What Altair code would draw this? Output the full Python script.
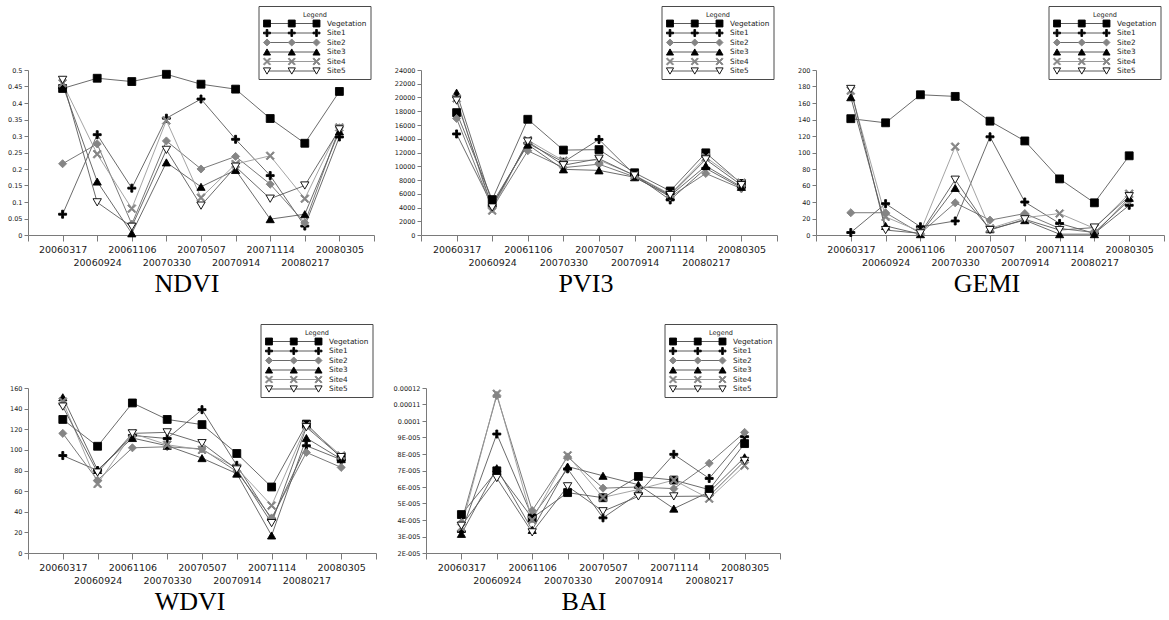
import json
import altair as alt
import pandas as pd

# ---------------- data ----------------
DATES = ["20060317", "20060924", "20061106", "20070330", "20070507",
         "20070914", "20071114", "20080217", "20080305"]
SERIES = ["Vegetation", "Site1", "Site2", "Site3", "Site4", "Site5"]

NDVI_VEG = [0.444, 0.475, 0.465, 0.487, 0.457, 0.442, 0.353, 0.278, 0.435]
NDVI_S1 = [0.063, 0.304, 0.142, 0.354, 0.412, 0.290, 0.180, 0.027, 0.297]
NDVI_S2 = [0.216, 0.276, 0.033, 0.285, 0.200, 0.238, 0.154, 0.037, 0.325]
NDVI_S3 = [0.455, 0.162, 0.005, 0.220, 0.146, 0.197, 0.048, 0.063, 0.314]
NDVI_S4 = [0.460, 0.245, 0.080, 0.347, 0.113, 0.215, 0.240, 0.110, 0.326]
NDVI_S5 = [0.470, 0.099, 0.025, 0.258, 0.089, 0.207, 0.110, 0.150, 0.320]

PVI3_VEG = [17800, 5150, 16830, 12350, 12420, 9050, 6400, 11950, 7500]
PVI3_S1 = [14700, 4300, 13350, 10600, 13900, 8750, 5100, 9700, 6850]
PVI3_S2 = [16950, 3850, 12250, 9800, 10300, 8450, 5550, 8950, 6750]
PVI3_S3 = [20700, 4600, 13150, 9550, 9400, 8400, 5700, 10050, 7000]
PVI3_S4 = [19870, 3550, 13800, 10800, 10900, 8700, 5950, 11300, 7600]
PVI3_S5 = [19550, 4000, 13600, 10150, 11100, 8650, 5800, 11000, 7250]

GEMI_VEG = [141, 136, 170, 168, 138, 114, 68, 39, 96]
GEMI_S1 = [3, 38, 10, 17, 119, 40, 14, 2, 36]
GEMI_S2 = [27, 27, 2, 39, 18, 26, 8, 3, 42]
GEMI_S3 = [167, 11, 1, 57, 7, 18, 1, 1, 45]
GEMI_S4 = [175, 22, 4, 107, 8, 21, 26, 8, 50]
GEMI_S5 = [177, 6, 2, 67, 6, 19, 6, 9, 47]

WDVI_VEG = [129.5, 103.5, 145.5, 129.5, 124.5, 96.5, 64, 125, 92.5]
WDVI_S1 = [94.5, 80, 114, 111, 139, 85, 32.5, 104, 90.5]
WDVI_S2 = [116, 70.5, 102, 103, 101, 79, 34, 97.5, 83]
WDVI_S3 = [151, 80.5, 111.5, 104, 92, 77, 17, 111.5, 91]
WDVI_S4 = [147, 67, 116, 105, 100, 82.5, 46, 123.5, 94.5]
WDVI_S5 = [142, 78, 116, 117, 106.5, 81, 29, 122, 93]

BAI_VEG = [4.33e-5, 6.98e-5, 4.12e-5, 5.66e-5, 5.35e-5, 6.64e-5, 6.42e-5, 5.84e-5, 8.63e-5]
BAI_S1 = [3.30e-5, 9.21e-5, 4.20e-5, 7.10e-5, 4.13e-5, 5.60e-5, 7.98e-5, 6.52e-5, 9.05e-5]
BAI_S2 = [3.85e-5, 11.55e-5, 4.57e-5, 7.82e-5, 5.93e-5, 6.00e-5, 5.90e-5, 7.44e-5, 9.31e-5]
BAI_S3 = [3.16e-5, 7.14e-5, 3.40e-5, 7.24e-5, 6.68e-5, 6.14e-5, 4.69e-5, 5.70e-5, 7.80e-5]
BAI_S4 = [3.55e-5, 11.65e-5, 4.00e-5, 7.92e-5, 5.37e-5, 5.85e-5, 6.42e-5, 5.29e-5, 7.30e-5]
BAI_S5 = [3.65e-5, 6.54e-5, 3.25e-5, 6.04e-5, 4.53e-5, 5.43e-5, 5.43e-5, 5.45e-5, 7.58e-5]

NDVI_TICKS = [0, 0.05, 0.1, 0.15, 0.2, 0.25, 0.3, 0.35, 0.4, 0.45, 0.5]
NDVI_TICK_LABELS = ["0", "0.05", "0.1", "0.15", "0.2", "0.25", "0.3", "0.35", "0.4", "0.45", "0.5"]
PVI3_TICKS = list(range(0, 24001, 2000))
PVI3_TICK_LABELS = [str(v) for v in PVI3_TICKS]
GEMI_TICKS = list(range(0, 201, 20))
GEMI_TICK_LABELS = [str(v) for v in GEMI_TICKS]
WDVI_TICKS = list(range(0, 161, 20))
WDVI_TICK_LABELS = [str(v) for v in WDVI_TICKS]
BAI_TICKS = [2e-5, 3e-5, 4e-5, 5e-5, 6e-5, 7e-5, 8e-5, 9e-5, 1e-4, 1.1e-4, 1.2e-4]
BAI_TICK_LABELS = ["2E-005", "3E-005", "4E-005", "5E-005", "6E-005", "7E-005",
                   "8E-005", "9E-005", "0.0001", "0.00011", "0.00012"]

# ---------------- styling ----------------
PLUS_PATH = "M-0.24,-1H0.24V-0.24H1V0.24H0.24V1H-0.24V0.24H-1V-0.24H-0.24Z"
X_PATH = ("M-1,-0.74L-0.74,-1L0,-0.26L0.74,-1L1,-0.74L0.26,0L1,0.74L0.74,1"
          "L0,0.26L-0.74,1L-1,0.74L-0.26,0Z")
SHAPES = ["square", PLUS_PATH, "diamond", "triangle-up", X_PATH, "triangle-down"]
FILLS = ["#000000", "#000000", "#858585", "#000000", "#858585", "#ffffff"]
STROKES = ["#000000", "#000000", "#858585", "#000000", "#858585", "#000000"]
SIZES = [62, 70, 42, 50, 58, 50]
LEG_SIZES = [48, 52, 32, 40, 44, 40]
LINE_COLORS = ["#5a5a5a", "#5a5a5a", "#6a6a6a", "#5a5a5a", "#9a9a9a", "#5a5a5a"]

LABEL_FONT = "DejaVu Sans"
TEXT_COLOR = "#1a1a1a"
H = 165


def panel(title, series_vals, ydomain, yticks, ytick_labels, W, title_dx):
    rows = []
    for s_i, s in enumerate(SERIES):
        for d_i, v in enumerate(series_vals[s_i]):
            rows.append({"idx": d_i + 1, "series": s, "value": v, "o": s_i})
    df = pd.DataFrame(rows)

    dates_js = json.dumps(DATES)
    x_label_expr = (
        f"datum.value < 1 || datum.value > 9 ? '' : "
        f"(datum.value % 2 == 1 ? {dates_js}[datum.value - 1] : "
        f"['', {dates_js}[datum.value - 1]])"
    )
    ylab_js = json.dumps(ytick_labels)
    step = yticks[1] - yticks[0]
    y_label_expr = f"{ylab_js}[round((datum.value - ({yticks[0]})) / ({step}))]"

    xs = alt.Scale(domain=[0, 10], nice=False, zero=False)
    ys = alt.Scale(domain=ydomain, nice=False, zero=False)
    xaxis = alt.Axis(values=list(range(11)), labelExpr=x_label_expr, title=None,
                     grid=False, domainColor="#7a7a7a", tickColor="#7a7a7a",
                     tickSize=6, labelFont=LABEL_FONT, labelFontSize=9.5,
                     labelColor=TEXT_COLOR, labelPadding=3, labelOverlap=False,
                     labelFlush=False, labelLineHeight=13, labelBaseline="top",
                     labelBound=False)
    yaxis = alt.Axis(values=yticks, labelExpr=y_label_expr, title=None, grid=False,
                     domainColor="#7a7a7a", tickColor="#7a7a7a", tickSize=4,
                     labelFont=LABEL_FONT, labelFontSize=6.5, labelColor=TEXT_COLOR,
                     labelPadding=2, labelOverlap=False, labelFlush=False,
                     labelBound=False)

    color_scale = alt.Scale(domain=SERIES, range=LINE_COLORS)
    shape_scale = alt.Scale(domain=SERIES, range=SHAPES)
    fill_scale = alt.Scale(domain=SERIES, range=FILLS)
    stroke_scale = alt.Scale(domain=SERIES, range=STROKES)

    base = alt.Chart(df)
    lines = base.mark_line(strokeWidth=0.9).encode(
        x=alt.X("idx:Q", scale=xs, axis=xaxis),
        y=alt.Y("value:Q", scale=ys, axis=yaxis),
        color=alt.Color("series:N", scale=color_scale, legend=None),
        order=alt.Order("idx:Q"),
    )
    points = base.mark_point(filled=True, opacity=1, strokeWidth=0.9).encode(
        x=alt.X("idx:Q", scale=xs, axis=None),
        y=alt.Y("value:Q", scale=ys, axis=None),
        shape=alt.Shape("series:N", scale=shape_scale, legend=None),
        fill=alt.Fill("series:N", scale=fill_scale, legend=None),
        stroke=alt.Stroke("series:N", scale=stroke_scale, legend=None),
        size=alt.Size("series:N", scale=alt.Scale(domain=SERIES, range=SIZES), legend=None),
    )

    # ----- legend box drawn above the plot -----
    bw = 112
    bx0 = W - 3 - bw
    leg_df = pd.DataFrame({"series": SERIES, "row": list(range(6))})
    leg_pts = pd.DataFrame([{"series": s, "row": i, "col": c}
                            for i, s in enumerate(SERIES) for c in range(3)])
    box_df = pd.DataFrame({"k": [0]})
    leg_y = alt.Y("row:Q", scale=alt.Scale(domain=[0, 5], range=[-46.5, 1],
                                           nice=False, zero=False), axis=None)
    leg_x = alt.X("col:Q", scale=alt.Scale(domain=[0, 2], range=[bx0 + 8, bx0 + 57.5],
                                           nice=False, zero=False), axis=None)

    box = alt.Chart(box_df).mark_rect(fill="white", stroke="#4a4a4a", strokeWidth=1).encode(
        x=alt.value(bx0), x2=alt.value(bx0 + bw), y=alt.value(-63.5), y2=alt.value(9.5))
    leg_title = alt.Chart(box_df).mark_text(
        text="Legend", font=LABEL_FONT, fontSize=6.5, align="center",
        baseline="middle", color=TEXT_COLOR, fill=TEXT_COLOR).encode(
        x=alt.value(bx0 + 56), y=alt.value(-55.5))
    leg_rules = alt.Chart(leg_df).mark_rule(strokeWidth=1).encode(
        x=alt.value(bx0 + 8), x2=alt.value(bx0 + 57.5), y=leg_y,
        color=alt.Color("series:N", scale=color_scale, legend=None))
    leg_points = alt.Chart(leg_pts).mark_point(filled=True, opacity=1, strokeWidth=0.9).encode(
        x=leg_x, y=leg_y,
        shape=alt.Shape("series:N", scale=shape_scale, legend=None),
        fill=alt.Fill("series:N", scale=fill_scale, legend=None),
        stroke=alt.Stroke("series:N", scale=stroke_scale, legend=None),
        size=alt.Size("series:N", scale=alt.Scale(domain=SERIES, range=LEG_SIZES), legend=None),
    )
    leg_labels = alt.Chart(leg_df).mark_text(
        font=LABEL_FONT, fontSize=7.3, align="left", baseline="middle",
        color=TEXT_COLOR, fill=TEXT_COLOR).encode(x=alt.value(bx0 + 68), y=leg_y, text="series:N")

    return alt.layer(lines, points, box, leg_title, leg_rules, leg_points, leg_labels).resolve_scale(
        x="independent", y="independent", size="independent"
    ).properties(
        width=W, height=H,
        title=alt.TitleParams(text=title, orient="bottom", anchor="middle", frame="group",
                              font="Liberation Serif", fontSize=26, fontWeight="normal",
                              color="#000000", offset=4, dx=title_dx),
    )


ndvi = panel("NDVI", [NDVI_VEG, NDVI_S1, NDVI_S2, NDVI_S3, NDVI_S4, NDVI_S5],
             [0, 0.5], NDVI_TICKS, NDVI_TICK_LABELS, 346, -14)
pvi3 = panel("PVI3", [PVI3_VEG, PVI3_S1, PVI3_S2, PVI3_S3, PVI3_S4, PVI3_S5],
             [0, 24000], PVI3_TICKS, PVI3_TICK_LABELS, 356, -13)
gemi = panel("GEMI", [GEMI_VEG, GEMI_S1, GEMI_S2, GEMI_S3, GEMI_S4, GEMI_S5],
             [0, 200], GEMI_TICKS, GEMI_TICK_LABELS, 348, -3)
wdvi = panel("WDVI", [WDVI_VEG, WDVI_S1, WDVI_S2, WDVI_S3, WDVI_S4, WDVI_S5],
             [0, 160], WDVI_TICKS, WDVI_TICK_LABELS, 348, -12)
bai = panel("BAI", [BAI_VEG, BAI_S1, BAI_S2, BAI_S3, BAI_S4, BAI_S5],
            [2e-5, 1.2e-4], BAI_TICKS, BAI_TICK_LABELS, 354, -19)

top = alt.hconcat(ndvi, pvi3, gemi, spacing=19)
bottom = alt.hconcat(wdvi, bai, spacing=16)
chart = alt.vconcat(top, bottom, spacing=27).properties(
    padding={"left": 7, "top": 6, "right": 0, "bottom": 0},
    background="white",
).configure_view(stroke=None)

chart.save("out.html", embed_options={"renderer": "svg", "actions": False})
